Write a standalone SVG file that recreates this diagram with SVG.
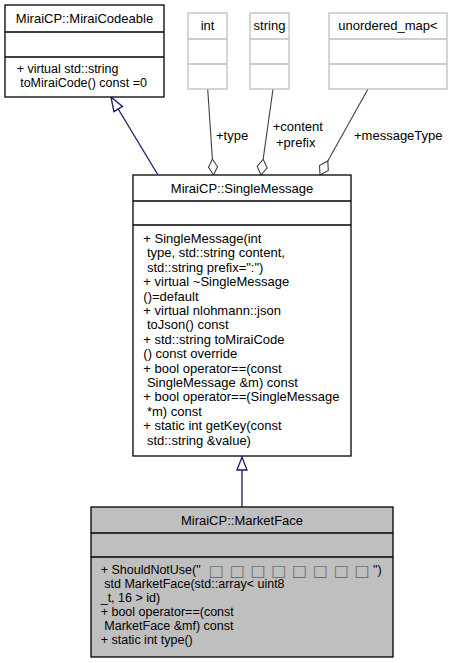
<svg xmlns="http://www.w3.org/2000/svg" width="453" height="663" viewBox="0 0 453 663">
<style>
text{font-family:"Liberation Sans",Arial,sans-serif;font-size:13px;fill:#000}
.c{text-anchor:middle}
.m{font-size:12.5px}
.box{fill:#fff;stroke:#000;stroke-width:1.3}
.gbox{fill:#fff;stroke:#bfbfbf;stroke-width:1.3}
.sel{fill:#bfbfbf;stroke:#000;stroke-width:1.3}
.agg{fill:none;stroke:#404040;stroke-width:1.1}
.dia{fill:#fff;stroke:#404040;stroke-width:1.1}
.inh{fill:none;stroke:#191970;stroke-width:1.3}
.tri{fill:#fff;stroke:#191970;stroke-width:1.3}
.tofu{font-family:"DejaVu Sans",sans-serif;font-size:16px;fill:#707070;text-anchor:middle}
</style>
<rect width="453" height="663" fill="#fff"/>
<g id="connectors">
<path class="inh" d="M158,175 L118.2,109"/>
<polygon class="tri" points="111,97 113.9,111.6 122.5,106.4"/>
<path class="inh" d="M242,507 L242,470"/>
<polygon class="tri" points="242,457 237,470 247,470"/>
<path class="agg" d="M207.7,89 L212.4,159"/>
<polygon class="dia" points="213.5,175 217.5,166.7 212.4,159 208.5,167.3"/>
<path class="agg" d="M273,89 L263.2,159.2"/>
<polygon class="dia" points="261,175 267.1,167.8 263.2,159.2 257.2,166.4"/>
<path class="agg" d="M368,89 L327.8,161"/>
<polygon class="dia" points="320,175 328.3,170.4 327.8,161 319.5,165.6"/>
<text x="216" y="139.5">+type</text>
<text x="272.7" y="131">+content</text>
<text x="276" y="147">+prefix</text>
<text x="354" y="139.5">+messageType</text>
</g>
<g id="MiraiCodeable">
<rect class="box" x="5" y="5" width="159" height="92"/>
<path class="box" d="M5,32 H164 M5,57 H164"/>
<text class="c" x="84.5" y="22.5">MiraiCP::MiraiCodeable</text>
<text class="m" x="16.7" y="72.5">+ virtual std::string</text>
<text class="m" x="20.2" y="86.5">toMiraiCode() const =0</text>
</g>
<g id="int">
<rect class="gbox" x="188" y="13" width="39" height="76"/>
<path class="gbox" d="M188,39 H227 M188,64 H227"/>
<text class="c" x="207.5" y="30">int</text>
</g>
<g id="string">
<rect class="gbox" x="250" y="13" width="39" height="76"/>
<path class="gbox" d="M250,39 H289 M250,64 H289"/>
<text class="c" x="269.5" y="30">string</text>
</g>
<g id="unordered_map">
<rect class="gbox" x="329" y="13" width="118" height="76"/>
<path class="gbox" d="M329,39 H447 M329,64 H447"/>
<text class="c" x="388" y="30">unordered_map&lt;</text>
</g>
<g id="SingleMessage">
<rect class="box" x="133" y="175" width="218" height="281"/>
<path class="box" d="M133,201 H351 M133,225 H351"/>
<text class="c" x="242" y="192.5">MiraiCP::SingleMessage</text>
<text x="143.3" y="243">+ SingleMessage(int</text>
<text x="146.9" y="257.4">type, std::string content,</text>
<text x="146.9" y="271.8">std::string prefix=":")</text>
<text x="143.3" y="286.2">+ virtual ~SingleMessage</text>
<text x="143.3" y="300.6">()=default</text>
<text x="143.3" y="315">+ virtual nlohmann::json</text>
<text x="146.9" y="329.4">toJson() const</text>
<text x="143.3" y="343.8">+ std::string toMiraiCode</text>
<text x="143.3" y="358.2">() const override</text>
<text x="143.3" y="372.6">+ bool operator==(const</text>
<text x="146.9" y="387">SingleMessage &amp;m) const</text>
<text x="143.3" y="401.4">+ bool operator==(SingleMessage</text>
<text x="146.9" y="415.8">*m) const</text>
<text x="143.3" y="430.2">+ static int getKey(const</text>
<text x="146.9" y="444.6">std::string &amp;value)</text>
</g>
<g id="MarketFace">
<rect class="sel" x="91" y="507" width="302" height="150"/>
<path class="sel" d="M91,533 H393 M91,557 H393"/>
<text class="c" x="242" y="524.5">MiraiCP::MarketFace</text>
<text class="m" x="100.7" y="574">+ ShouldNotUse("<tspan class="tofu" x="216.4 237.2 258 278.8 299.6 320.4 341.2 362" y="575.5">□□□□□□□□</tspan><tspan x="373" y="574">")</tspan></text>
<text class="m" x="104.3" y="588">std MarketFace(std::array&lt; uint8</text>
<text class="m" x="100.7" y="602">_t, 16 &gt; id)</text>
<text class="m" x="100.7" y="616">+ bool operator==(const</text>
<text class="m" x="104.3" y="630">MarketFace &amp;mf) const</text>
<text class="m" x="100.7" y="644">+ static int type()</text>
</g>
</svg>
